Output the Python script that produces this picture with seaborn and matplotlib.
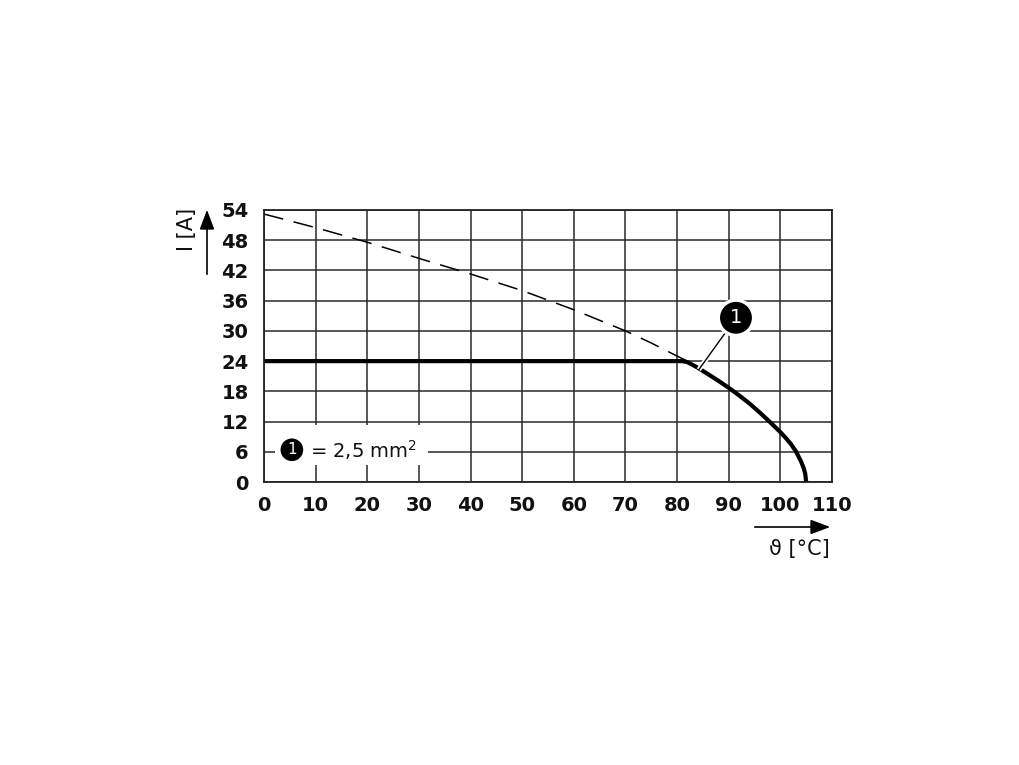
import numpy as np
import pandas as pd
import matplotlib
matplotlib.use("Agg")
import matplotlib.pyplot as plt
import seaborn as sns

# derating data
temp_dashed = [0, 10, 20, 30, 40, 50, 60, 70, 75, 80, 82]
curr_dashed = [53.2, 50.5, 47.6, 44.4, 41.3, 38.0, 34.2, 30.0, 27.6, 25.0, 24.0]

temp_solid = [0, 81.0, 82, 84, 86, 88, 90, 92, 94, 96, 98, 100,
              101, 102, 103, 104, 104.5, 104.8, 105]
curr_solid = [24, 24, 23.8, 22.7, 21.4, 20.1, 18.7, 17.2, 15.6, 13.8, 11.9,
              9.9, 8.8, 7.6, 6.1, 4.1, 2.8, 1.7, 0]

xticks = list(range(0, 111, 10))
yticks = list(range(0, 55, 6))

sns.set_style("white")
plt.rcParams['font.family'] = ['DejaVu Sans']

fig = plt.figure(figsize=(10.2, 7.65), dpi=100)
ax = fig.add_axes([0.2588, 0.3699, 0.8157 - 0.2588, 0.7255 - 0.3699])

df_d = pd.DataFrame({'T': temp_dashed, 'I': curr_dashed})
df_s = pd.DataFrame({'T': temp_solid, 'I': curr_solid})

sns.lineplot(data=df_d, x='T', y='I', ax=ax, color='black', lw=1.1,
             linestyle=(0, (13, 7)), sort=False)
sns.lineplot(data=df_s, x='T', y='I', ax=ax, color='black', lw=3.0,
             sort=False, solid_joinstyle='round')

ax.set_xlim(0, 110)
ax.set_ylim(0, 54)
ax.set_xticks(xticks)
ax.set_yticks(yticks)
ax.set_xticklabels([str(v) for v in xticks], fontsize=14, fontweight='bold')
ax.set_yticklabels([str(v) for v in yticks], fontsize=14, fontweight='bold')
ax.tick_params(axis='both', length=0, colors='#111111')
ax.tick_params(axis='x', pad=10)
ax.tick_params(axis='y', pad=11)
ax.grid(True, color='#2a2a2a', lw=1.1)
ax.set_axisbelow(True)
for s in ax.spines.values():
    s.set_color('#222222')
    s.set_linewidth(1.3)
ax.set_xlabel('')
ax.set_ylabel('')

# callout 1
ax.plot([84.2, 89.6], [22.3, 30.0], color='white', lw=3.5, zorder=4,
        solid_capstyle='butt')
ax.plot([84.2, 89.6], [22.3, 30.0], color='black', lw=1.0, zorder=5)
ax.text(91.4, 32.6, '1', ha='center', va='center', color='white',
        fontsize=14, zorder=7,
        bbox=dict(boxstyle='circle,pad=0.42', fc='black', ec='white', lw=2.5))

# legend box
ax.add_patch(plt.Rectangle((2.1, 3.3), 29.7, 8.0, fc='white', ec='none',
                           zorder=5))
ax.text(5.4, 6.4, '1', ha='center', va='center', color='white',
        fontsize=11, zorder=7,
        bbox=dict(boxstyle='circle,pad=0.25', fc='black', ec='none'))
ax.text(8.9, 6.4, '= 2,5 mm$^{2}$', ha='left', va='center', fontsize=14,
        color='#111111', zorder=6)

# axis labels with arrows
fig.text(187 / 1020, 1 - 229 / 765, 'I [A]', rotation=90, ha='center',
         va='center', fontsize=15, color='#111111')
fig.add_artist(matplotlib.patches.FancyArrowPatch(
    (207 / 1020, 1 - 277 / 765), (207 / 1020, 1 - 207 / 765),
    transform=fig.transFigure, arrowstyle='-|>,head_length=12,head_width=4.5',
    color='black', lw=1.2))
fig.text(799 / 1020, 1 - 549 / 765, 'ϑ [°C]', ha='center', va='center',
         fontsize=15, color='#111111')
fig.add_artist(matplotlib.patches.FancyArrowPatch(
    (752 / 1020, 1 - 527 / 765), (833 / 1020, 1 - 527 / 765),
    transform=fig.transFigure, arrowstyle='-|>,head_length=12,head_width=4.5',
    color='black', lw=1.2))

fig.savefig('out.png', dpi=100, facecolor='white')
